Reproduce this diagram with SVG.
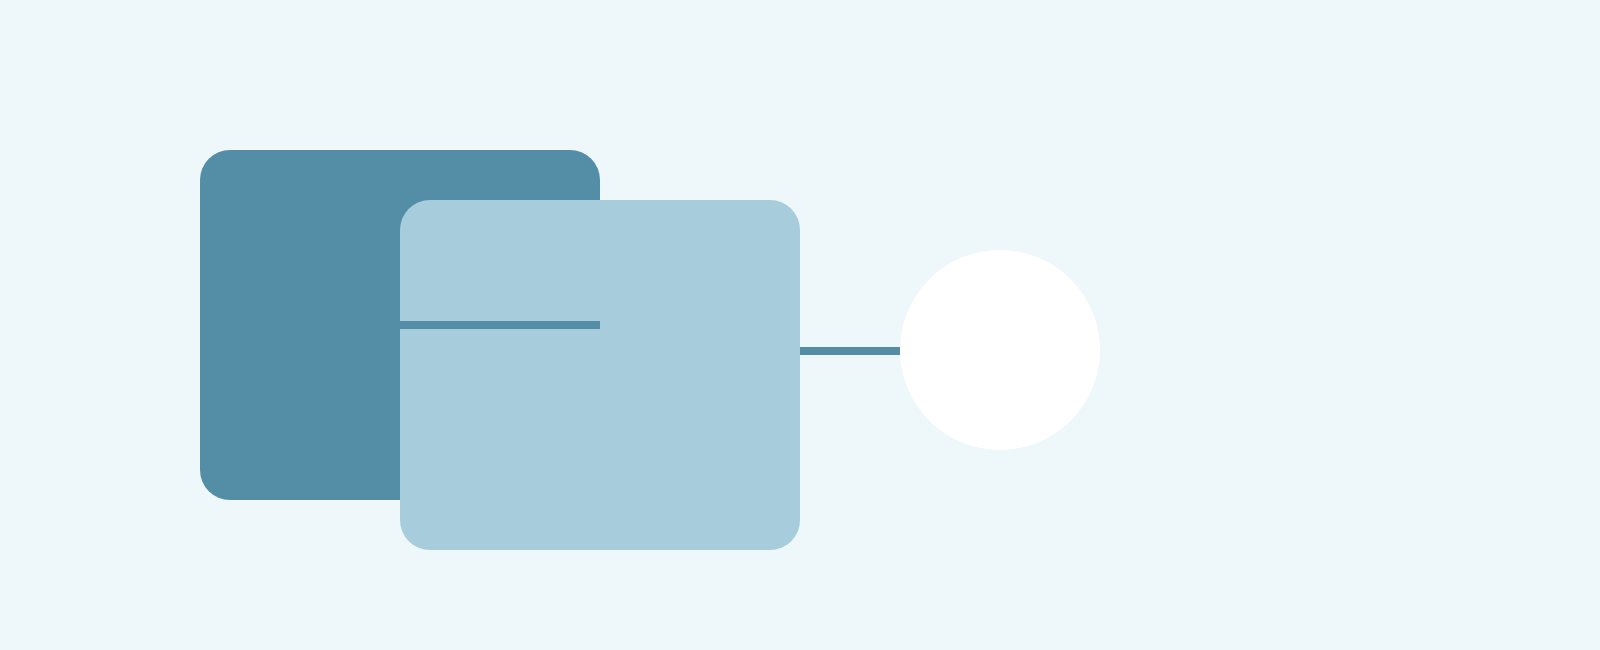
<svg xmlns="http://www.w3.org/2000/svg" width="1600" height="650" viewBox="0 0 1600 650">
  <style>
    .bg { fill: #EEF7FA; }
    .dark { fill: #548EA6; }
    .light { fill: #A7CCDC; }
    .end { fill: #FFFFFF; }
    .conn { stroke: #548EA6; stroke-width: 8; fill: none; }
  </style>
  <rect class="bg" x="0" y="0" width="1600" height="650"/>
  <g id="node-back">
    <rect class="dark" x="200" y="150" width="400" height="350" rx="30" ry="30"/>
  </g>
  <g id="node-front">
    <rect class="light" x="400" y="200" width="400" height="350" rx="30" ry="30"/>
  </g>
  <g id="node-circle">
    <circle class="end" cx="1000" cy="350" r="100"/>
  </g>
  <g id="connectors">
    <line class="conn" x1="400" y1="325" x2="600" y2="325"/>
    <line class="conn" x1="800" y1="351" x2="900" y2="351"/>
  </g>
</svg>
